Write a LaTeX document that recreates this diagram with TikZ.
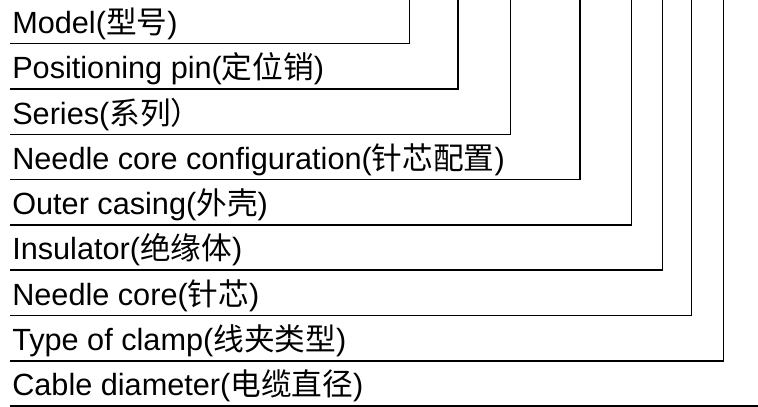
\documentclass[tikz,border=0pt]{standalone}
\usepackage{fontspec}
\setmainfont{Liberation Sans}
\newfontfamily\cjk{Noto Sans CJK SC}
\newcommand{\zh}[1]{{\cjk #1}}

\begin{document}
\begin{tikzpicture}[x=0.75pt,y=0.75pt,yscale=-1,xscale=1]
\tikzset{
  lbl/.style={anchor=base west,inner sep=0pt,font=\fontsize{23}{27}\selectfont},
  leader/.style={line width=1.4pt,line join=miter}
}
\useasboundingbox (0,0) rectangle (758,407);

% Text Node
\node (model) at (12,33) [lbl] {Model(\zh{型号})};
% Text Node
\node (pin) at (12,78.5) [lbl] {Positioning pin(\zh{定位销})};
% Text Node
\node (series) at (12,124) [lbl] {Series(\zh{系列）}};
% Text Node
\node (config) at (12,169) [lbl] {Needle core configuration(\zh{针芯配置})};
% Text Node
\node (casing) at (12,214.5) [lbl] {Outer casing(\zh{外壳})};
% Text Node
\node (insul) at (12,259.5) [lbl] {Insulator(\zh{绝缘体})};
% Text Node
\node (core) at (12,305) [lbl] {Needle core(\zh{针芯})};
% Text Node
\node (clamp) at (12,350.5) [lbl] {Type of clamp(\zh{线夹类型})};
% Text Node
\node (cable) at (12,395.5) [lbl] {Cable diameter(\zh{电缆直径})};

% corners
\coordinate (c1) at (409.5,43.5);
\coordinate (c2) at (458,89);
\coordinate (c3) at (510.5,134.5);
\coordinate (c4) at (580,179.5);
\coordinate (c5) at (631.5,225);
\coordinate (c6) at (662.5,270);
\coordinate (c7) at (691.5,315.5);
\coordinate (c8) at (723.5,361);
\coordinate (c9) at (758,406);

%Straight Lines
\draw [leader] (10,43.5) -- (c1) -- (c1 |- 0,0) ;
\draw [leader] (10,89) -- (c2) -- (c2 |- 0,0) ;
\draw [leader] (10,134.5) -- (c3) -- (c3 |- 0,0) ;
\draw [leader] (10,179.5) -- (c4) -- (c4 |- 0,0) ;
\draw [leader] (10,225) -- (c5) -- (c5 |- 0,0) ;
\draw [leader] (10,270) -- (c6) -- (c6 |- 0,0) ;
\draw [leader] (10,315.5) -- (c7) -- (c7 |- 0,0) ;
\draw [leader] (10,361) -- (c8) -- (c8 |- 0,0) ;
\draw [leader] (10,406) -- (c9) ;

\end{tikzpicture}
\end{document}
